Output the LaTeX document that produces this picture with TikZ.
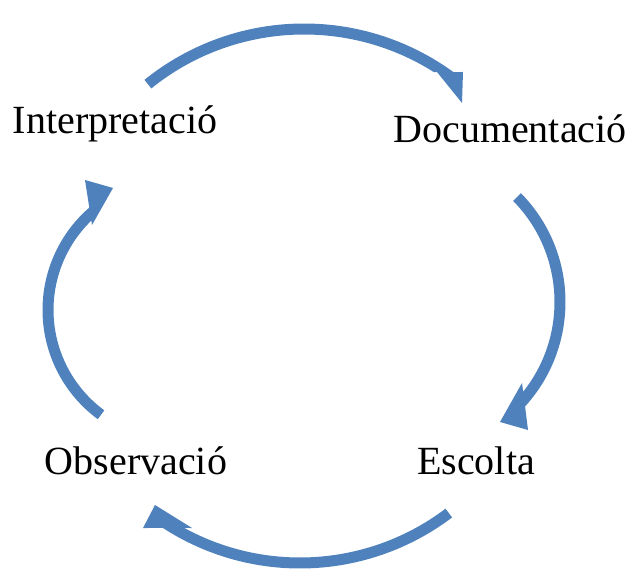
\documentclass[tikz,border=0pt]{standalone}
\usepackage{fontspec}
\setmainfont{Liberation Serif}
\definecolor{arrowblue}{HTML}{4F81BD}
\begin{document}
\begin{tikzpicture}[x=1pt,y=-1pt,
  arcarrow/.style={fill=arrowblue, draw=none},
  lbl/.style={font=\fontsize{40}{48}\selectfont, anchor=base, inner sep=0pt}]
\useasboundingbox (0,0) rectangle (630,572);
% labels
\node[lbl] (interp) at (115,134) {Interpretació};
\node[lbl] (docu) at (510,143) {Documentació};
\node[lbl] (obs) at (136,474) {Observació};
\node[lbl] (esc) at (476,475) {Escolta};
% arc centres
\coordinate (ct) at (304,277.6);
\coordinate (cr) at (410.3,302);
\coordinate (cb) at (300,316.3);
\coordinate (cl) at (178,310);
% top arrow: Interpretació -> Documentació
\fill[arcarrow] ([shift={(128.9:254.1pt)}]ct) arc[start angle=128.9, end angle=54.0, radius=254.1pt]
  -- (463,72) -- (462,103) -- (437,72)
  -- ([shift={(57.74:243.1pt)}]ct) arc[start angle=57.74, end angle=128.9, radius=243.1pt] -- cycle;
% right arrow: Documentació -> Escolta
\fill[arcarrow] ([shift={(44.5:155.2pt)}]cr) arc[start angle=44.5, end angle=-42.3, radius=155.2pt]
  -- (528,430) -- (500,422) -- (522,383)
  -- ([shift={(-38.5:144.2pt)}]cr) arc[start angle=-38.5, end angle=44.5, radius=144.2pt] -- cycle;
% bottom arrow: Escolta -> Observació
\fill[arcarrow] ([shift={(307.1:252.2pt)}]cb) arc[start angle=307.1, end angle=237.08, radius=252.2pt]
  -- (143,528) -- (155,505) -- (192,528)
  -- ([shift={(241.37:241.2pt)}]cb) arc[start angle=241.37, end angle=307.1, radius=241.2pt] -- cycle;
% left arrow: Observació -> Interpretació
\fill[arcarrow] ([shift={(233.7:135.5pt)}]cl) arc[start angle=233.7, end angle=130.9, radius=135.5pt]
  -- (85,180) -- (113,188) -- (92,225)
  -- ([shift={(134.1:124.5pt)}]cl) arc[start angle=134.1, end angle=233.7, radius=124.5pt] -- cycle;
\end{tikzpicture}
\end{document}
